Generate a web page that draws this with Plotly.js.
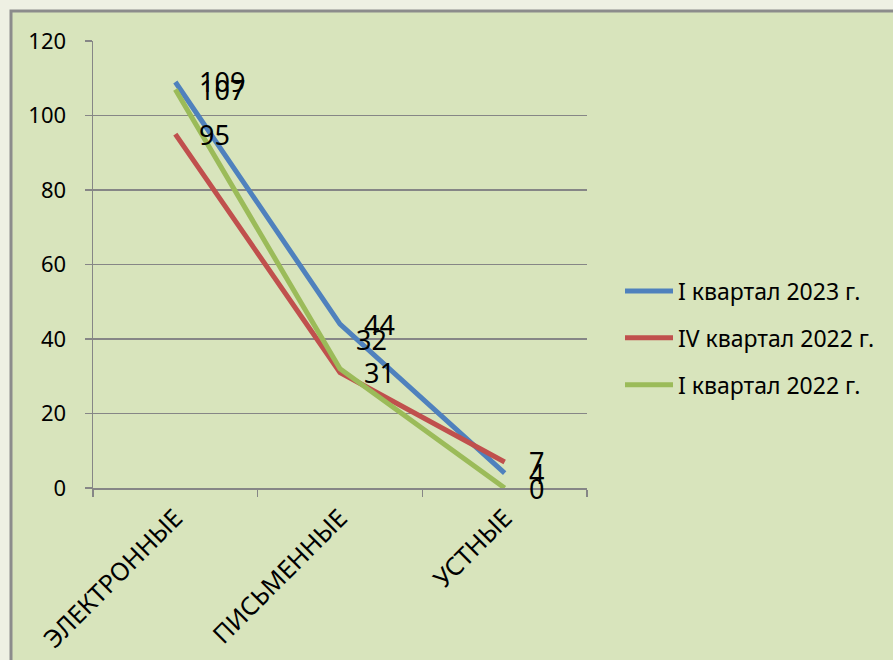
<!DOCTYPE html>
<html>
<head>
<meta charset="utf-8">
<script src="https://cdn.plot.ly/plotly-3.0.1.min.js"></script>
<style>html,body{margin:0;padding:0;background:#EEF0E3;}#chart{width:893px;height:660px;}</style>
</head>
<body>
<div id="chart"></div>
<script>
const categories = ['ЭЛЕКТРОННЫЕ', 'ПИСЬМЕННЫЕ', 'УСТНЫЕ'];
const seriesNames = ['I квартал 2023 г.', 'IV квартал 2022 г.', 'I квартал 2022 г.'];
const q1_2023 = [109, 44, 4];
const q4_2022 = [95, 31, 7];
const q1_2022 = [107, 32, 0];
const yTicks = [0, 20, 40, 60, 80, 100, 120];

const seriesValues = [q1_2023, q4_2022, q1_2022];
const colors = ['#4F81BD', '#C0504D', '#9BBB59'];
// label offsets (pixels) per series/point, kept apart from data
const labelShiftX = [[22, 22, 22], [22, 22, 22], [22, 14, 22]];
const labelShiftY = [[0, 0, 0], [0, 0, 0], [0, 29, 0]];

const font = 'Noto Sans, Open Sans, sans-serif';

const traces = seriesValues.map((vals, i) => ({
  type: 'scatter',
  mode: 'lines',
  x: categories,
  y: vals,
  name: seriesNames[i],
  legendgroup: 'g' + i,
  line: {color: colors[i], width: 5},
  hoverinfo: 'skip'
}));

const annotations = [];
seriesValues.forEach((vals, i) => {
  vals.forEach((v, j) => {
    annotations.push({
      x: categories[j], y: v, xref: 'x', yref: 'y',
      text: String(v), showarrow: false,
      xanchor: 'left', yanchor: 'middle',
      xshift: labelShiftX[i][j], yshift: labelShiftY[i][j],
      font: {family: font, size: 27, color: '#000'}
    });
  });
});

const L = 93, R = 587, T = 41, B = 488, W = 893, H = 660;
const pw = R - L, ph = B - T;
const px2x = p => (p - L) / pw;
const py2y = p => (B - p) / ph;

const layout = {
  width: W, height: H,
  margin: {l: L, r: W - R, t: T, b: H - B, pad: 0},
  paper_bgcolor: '#EEF0E3',
  plot_bgcolor: 'rgba(0,0,0,0)',
  showlegend: true,
  font: {family: font, color: '#000'},
  xaxis: {
    type: 'category',
    range: [-0.5, 2.5],
    tickson: 'boundaries',
    ticks: 'outside', ticklen: 7, tickwidth: 1.5, tickcolor: '#868686',
    showline: true, linecolor: '#868686', linewidth: 1.5,
    showgrid: false, zeroline: false,
    tickangle: -45,
    ticklabelstandoff: 4,
    tickfont: {family: font, size: 25, color: '#000'},
    fixedrange: true
  },
  yaxis: {
    range: [0, 120],
    tickvals: yTicks,
    ticks: 'outside', ticklen: 7, tickwidth: 1.5, tickcolor: '#868686',
    showline: true, linecolor: '#868686', linewidth: 1.5,
    showgrid: true, gridcolor: '#868686', gridwidth: 1.5,
    zeroline: false,
    ticklabelstandoff: 14,
    tickfont: {family: font, size: 22, color: '#000'},
    fixedrange: true
  },
  legend: {
    x: px2x(620), y: py2y(338), xanchor: 'left', yanchor: 'middle',
    bgcolor: 'rgba(0,0,0,0)',
    font: {family: font, size: 23, color: '#000'},
    traceorder: 'grouped',
    tracegroupgap: 14,
    itemwidth: 48
  },
  shapes: [{
    type: 'rect', layer: 'below', xref: 'paper', yref: 'paper',
    x0: px2x(11), x1: px2x(905), y0: py2y(672), y1: py2y(11),
    fillcolor: '#D8E4BC', line: {color: '#8C8C8C', width: 3}
  }],
  annotations: annotations
};

Plotly.newPlot('chart', traces, layout, {displayModeBar: false, staticPlot: true});
</script>
</body>
</html>
